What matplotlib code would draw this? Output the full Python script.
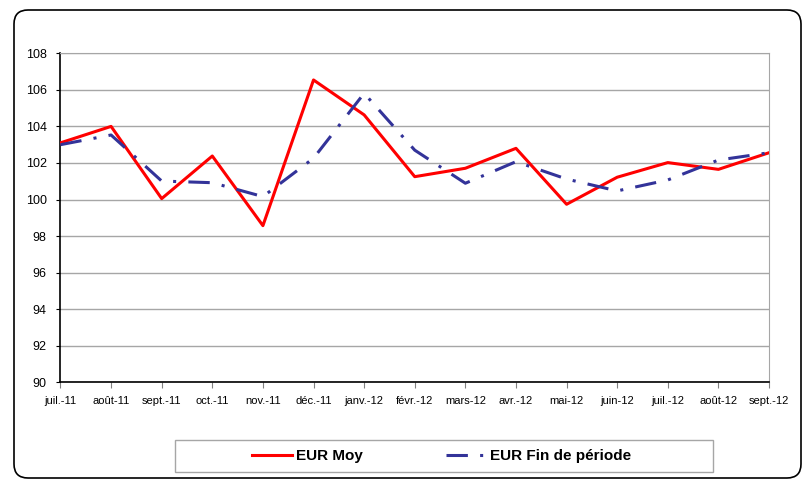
import matplotlib
matplotlib.use('Agg')
import matplotlib.pyplot as plt
from matplotlib.patches import FancyBboxPatch, Rectangle
from matplotlib.transforms import IdentityTransform

plt.rcParams['font.family'] = ['Liberation Sans', 'DejaVu Sans']

# Data
months = ['juil.-11', 'août-11', 'sept.-11', 'oct.-11', 'nov.-11', 'déc.-11',
          'janv.-12', 'févr.-12', 'mars-12', 'avr.-12', 'mai-12', 'juin-12',
          'juil.-12', 'août-12', 'sept.-12']
eur_moy = [103.1, 104.0, 100.05, 102.38, 98.57, 106.54, 104.63, 101.25,
           101.71, 102.8, 99.74, 101.22, 102.02, 101.65, 102.56]
eur_fin = [103.0, 103.53, 101.01, 100.92, 100.16, 102.26, 105.81, 102.7,
           100.89, 102.07, 101.12, 100.47, 101.07, 102.16, 102.56]
y_ticks = [90, 92, 94, 96, 98, 100, 102, 104, 106, 108]

# Create figure and axes
fig = plt.figure(figsize=(8.03, 4.8), dpi=100)
ax = fig.add_axes([0.0753, 0.2035, 0.8824, 0.6855])

x = list(range(len(months)))
ax.plot(x, eur_moy, color='#FF0000', lw=2.2, label='EUR Moy', zorder=3)
ax.plot(x, eur_fin, color='#333399', lw=2.2, dashes=(7, 4, 1, 4),
        label='EUR Fin de période', zorder=3)

# Axes formatting
ax.set_xlim(0, len(months) - 1)
ax.set_ylim(90, 108)
ax.set_yticks(y_ticks)
ax.set_xticks(x)
ax.set_xticklabels(months)
ax.tick_params(axis='x', labelsize=8, length=4, pad=6, color='#808080')
ax.tick_params(axis='y', labelsize=9, length=3, pad=7)
ax.grid(axis='y', color='#A6A6A6', lw=1)
ax.set_axisbelow(True)
ax.spines['left'].set_color('black')
ax.spines['bottom'].set_color('black')
ax.spines['left'].set_linewidth(1.2)
ax.spines['bottom'].set_linewidth(1.2)
ax.spines['top'].set_color('#A6A6A6')
ax.spines['right'].set_color('#A6A6A6')

# Legend box drawn separately, entries centred inside it
legend_box = Rectangle((0.218, 0.0167), 0.67, 0.067, transform=fig.transFigure,
                       fill=False, edgecolor='#A6A6A6', lw=1)
fig.add_artist(legend_box)
leg = fig.legend(loc='center', ncol=2, bbox_to_anchor=(0.55, 0.05),
                 frameon=False, prop={'weight': 'bold', 'size': 11},
                 handlelength=2.6, handletextpad=0.3, columnspacing=5.4)

# Rounded outer frame
frame = FancyBboxPatch((14, 2), 787, 468, boxstyle='round,pad=0,rounding_size=14',
                       transform=IdentityTransform(), fill=False,
                       edgecolor='black', lw=1.2)
fig.add_artist(frame)

fig.savefig('out.png', dpi=100)
